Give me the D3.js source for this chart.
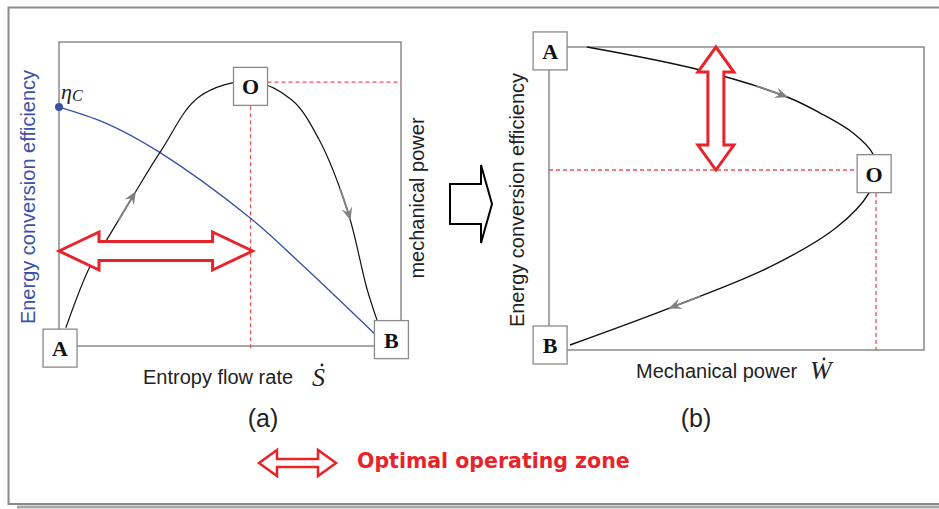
<!DOCTYPE html>
<meta charset="utf-8">
<html>
<head>
<script src="https://d3js.org/d3.v7.min.js"></script>
<style>
  body { margin: 0; background: #fff; }
  text { font-family: "Liberation Sans", Arial, sans-serif; }
</style>
</head>
<body>
<div id="chart-container"></div>
<script>
// ---- panel (a): values against entropy flow rate (0..1) ----
const entropyP = [0.02, 0.09, 0.14, 0.22, 0.30, 0.41, 0.56, 0.68, 0.76, 0.845, 0.90, 0.93];
const powerA   = [0.06, 0.26, 0.35, 0.50, 0.645, 0.82, 0.87, 0.81, 0.68, 0.44, 0.19, 0.085];
const entropyE = [0, 0.135, 0.29, 0.56, 0.705, 0.924];
const effA     = [0.786, 0.734, 0.64, 0.42, 0.273, 0.039];
// ---- panel (b): efficiency against mechanical power (0..1) ----
const powerB = [0.101, 0.403, 0.635, 0.723, 0.811, 0.864, 0.872, 0.853, 0.768, 0.589, 0.323, 0.056];
const effB   = [1.0, 0.924, 0.835, 0.782, 0.716, 0.647, 0.594, 0.518, 0.406, 0.274, 0.139, 0.0165];
// optimum point and zone
const optA = {s: 0.56, p: 0.868};
const optB = {p: 0.872, e: 0.594};
const zoneA = {s0: 0, s1: 0.566, p: 0.3125};
const zoneB = {e0: 1.0, e1: 0.594, p: 0.445};
// flow direction marks (tip positions on the curves)
const marksA = [[0.223, 0.51], [0.857, 0.414]];
const marksB = [[0.637, 0.835], [0.317, 0.142]];
// point labels
const labelsA = [['A', 0.003, -0.007], ['B', 0.972, 0.021], ['O', 0.56, 0.854]];
const labelsB = [['A', 0.003, 0.987], ['B', 0.003, 0.0165], ['O', 0.867, 0.582]];

const W = 939, H = 509;
const red = '#e8232a', blue = '#3a52a6', frame = '#8a8a8a';

const svg = d3.select('#chart-container').append('svg')
  .attr('width', W).attr('height', H);

// outer frame with shadow
svg.append('path').attr('d', 'M17,507 H939').attr('stroke', '#aaa').attr('stroke-width', 3).attr('fill', 'none');
svg.append('path').attr('d', 'M939,7.5 H8.5 V504 H939').attr('stroke', frame).attr('stroke-width', 2).attr('fill', 'none');

const xA = d3.scaleLinear().domain([0, 1]).range([59, 401]);
const yA = d3.scaleLinear().domain([0, 1]).range([346, 42]);
const xB = d3.scaleLinear().domain([0, 1]).range([549, 924]);
const yB = d3.scaleLinear().domain([0, 1]).range([350, 47]);

function plotFrame(x, y) {
  svg.append('rect')
    .attr('x', x(0)).attr('y', y(1))
    .attr('width', x(1) - x(0)).attr('height', y(0) - y(1))
    .attr('fill', 'none').attr('stroke', frame).attr('stroke-width', 1.5);
}
plotFrame(xA, yA);
plotFrame(xB, yB);

function dashed(x1, y1, x2, y2) {
  svg.append('line')
    .attr('x1', x1).attr('y1', y1).attr('x2', x2).attr('y2', y2)
    .attr('stroke', '#f0505a').attr('stroke-width', 1.3).attr('stroke-dasharray', '4,3');
}
dashed(xA(optA.s), yA(optA.p) + 24, xA(optA.s), yA(0) + 5);
dashed(xA(optA.s) + 17, yA(optA.p), xA(1), yA(optA.p));
dashed(xB(0), yB(optB.e), xB(optB.p) - 19, yB(optB.e));
dashed(xB(optB.p), yB(optB.e) + 23, xB(optB.p), yB(0));

const line = d3.line().curve(d3.curveCatmullRom.alpha(0.5));

svg.append('path')
  .attr('d', line(entropyE.map((s, i) => [xA(s), yA(effA[i])])))
  .attr('fill', 'none').attr('stroke', blue).attr('stroke-width', 1.4);
svg.append('circle').attr('cx', xA(0)).attr('cy', yA(effA[0])).attr('r', 4).attr('fill', blue);

const powPath = svg.append('path')
  .attr('d', line(entropyP.map((s, i) => [xA(s), yA(powerA[i])])))
  .attr('fill', 'none').attr('stroke', '#111').attr('stroke-width', 1.2);

const bPath = svg.append('path')
  .attr('d', line(powerB.map((p, i) => [xB(p), yB(effB[i])])))
  .attr('fill', 'none').attr('stroke', '#111').attr('stroke-width', 1.4);

// gray flow marks: highlight a piece of the curve and put an arrow head at its end
function flowMark(pathSel, px, py) {
  const node = pathSel.node();
  const total = node.getTotalLength();
  let best = 0, bestD = Infinity;
  for (let l = 0; l <= total; l += 0.5) {
    const p = node.getPointAtLength(l);
    const d = (p.x - px) ** 2 + (p.y - py) ** 2;
    if (d < bestD) { bestD = d; best = l; }
  }
  const pts = d3.range(Math.max(0, best - 34), best, 1).map(l => {
    const p = node.getPointAtLength(l); return [p.x, p.y];
  });
  svg.append('path').attr('d', d3.line()(pts))
    .attr('fill', 'none').attr('stroke', '#808080').attr('stroke-width', 1.9);
  const a = node.getPointAtLength(best - 3), b = node.getPointAtLength(best);
  const ang = Math.atan2(b.y - a.y, b.x - a.x) * 180 / Math.PI;
  svg.append('path').attr('d', 'M0,0 L-13,-5.5 L-8,0 L-13,5.5 Z')
    .attr('transform', `translate(${b.x},${b.y}) rotate(${ang})`)
    .attr('fill', '#808080');
}
marksA.forEach(m => flowMark(powPath, xA(m[0]), yA(m[1])));
marksB.forEach(m => flowMark(bPath, xB(m[0]), yB(m[1])));

// hollow double arrows
function hArrow(x1, x2, y, hl, sh, hh, sw) {
  const d = `M${x1},${y} L${x1 + hl},${y - hh} L${x1 + hl},${y - sh} L${x2 - hl},${y - sh} L${x2 - hl},${y - hh} L${x2},${y}
    L${x2 - hl},${y + hh} L${x2 - hl},${y + sh} L${x1 + hl},${y + sh} L${x1 + hl},${y + hh} Z`;
  svg.append('path').attr('d', d).attr('fill', '#fff').attr('stroke', red)
    .attr('stroke-width', sw).attr('stroke-linejoin', 'miter');
}
function vArrow(x, y1, y2, hl, sh, hh, sw) {
  const d = `M${x},${y1} L${x + hh},${y1 + hl} L${x + sh},${y1 + hl} L${x + sh},${y2 - hl} L${x + hh},${y2 - hl} L${x},${y2}
    L${x - hh},${y2 - hl} L${x - sh},${y2 - hl} L${x - sh},${y1 + hl} L${x - hh},${y1 + hl} Z`;
  svg.append('path').attr('d', d).attr('fill', '#fff').attr('stroke', red)
    .attr('stroke-width', sw).attr('stroke-linejoin', 'miter');
}
hArrow(xA(zoneA.s0), xA(zoneA.s1), yA(zoneA.p), 40, 9.5, 19, 3);
vArrow(xB(zoneB.p), yB(zoneB.e0), yB(zoneB.e1), 25, 8, 18, 3);
hArrow(259, 336, 463, 18, 4, 13, 2.5);

// big transform arrow between the panels
svg.append('path')
  .attr('d', 'M450,184 H481 V165 L492,204 L481,243 V224 H450 Z')
  .attr('fill', '#fff').attr('stroke', '#000').attr('stroke-width', 2);

// point label boxes
function labelBox(name, cx, cy) {
  svg.append('rect').attr('x', cx - 17).attr('y', cy - 19).attr('width', 34).attr('height', 38)
    .attr('fill', '#fff').attr('stroke', frame).attr('stroke-width', 1.3);
  svg.append('text').attr('x', cx).attr('y', cy + 8).attr('text-anchor', 'middle')
    .style('font-family', '"Liberation Serif", "Times New Roman", serif')
    .style('font-weight', 'bold').style('font-size', '22px').attr('fill', '#111').text(name);
}
labelsA.forEach(l => labelBox(l[0], xA(l[1]), yA(l[2])));
labelsB.forEach(l => labelBox(l[0], xB(l[1]), yB(l[2])));

// eta_C
const eta = svg.append('text').attr('x', 61).attr('y', 99)
  .style('font-family', '"Liberation Serif", serif').style('font-style', 'italic')
  .style('font-size', '22px').attr('fill', '#222');
eta.append('tspan').text('η');
eta.append('tspan').attr('dy', 2).style('font-size', '16px').text('C');

// axis titles
function vText(x, y, str, color) {
  svg.append('text').attr('transform', `translate(${x},${y}) rotate(-90)`)
    .attr('text-anchor', 'middle').style('font-size', '20px').attr('fill', color).text(str);
}
vText(35, 197, 'Energy conversion efficiency', blue);
vText(424, 198, 'mechanical power', '#222');
vText(524, 200, 'Energy conversion efficiency', '#222');

svg.append('text').attr('x', 143).attr('y', 384).style('font-size', '20px').attr('fill', '#222').text('Entropy flow rate');
svg.append('text').attr('x', 636).attr('y', 378).style('font-size', '20px').attr('fill', '#222').text('Mechanical power');

function dotted(x, y, str, dx, dy) {
  svg.append('text').attr('x', x).attr('y', y)
    .style('font-family', '"Liberation Serif", serif').style('font-style', 'italic')
    .style('font-size', '26px').attr('fill', '#222').text(str);
  svg.append('circle').attr('cx', x + dx).attr('cy', y - dy).attr('r', 1.4).attr('fill', '#222');
}
dotted(312, 386, 'S', 10, 21);
dotted(810, 379, 'W', 14, 20);

svg.append('text').attr('x', 263).attr('y', 427).attr('text-anchor', 'middle')
  .style('font-size', '25px').attr('fill', '#222').text('(a)');
svg.append('text').attr('x', 696).attr('y', 427).attr('text-anchor', 'middle')
  .style('font-size', '25px').attr('fill', '#222').text('(b)');

svg.append('text').attr('x', 357).attr('y', 468)
  .style('font-family', '"DejaVu Sans", Verdana, sans-serif').style('font-weight', 'bold')
  .style('font-size', '20.5px').attr('fill', red).text('Optimal operating zone');
</script>
</body>
</html>
